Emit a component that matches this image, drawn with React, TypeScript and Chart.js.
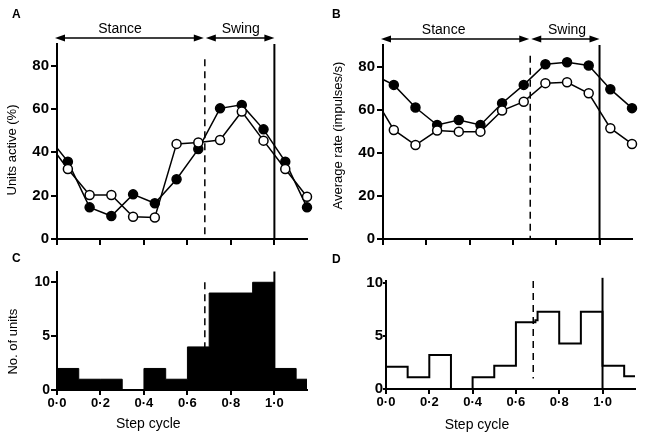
import { useEffect, useRef } from "react";
import { Chart, registerables } from "chart.js";

Chart.register(...registerables);

const FONT = "'Liberation Sans', Arial, sans-serif";

// step-cycle position of each averaged point (centre of a 0.1 bin)
const phase = [0.05, 0.15, 0.25, 0.35, 0.45, 0.55, 0.65, 0.75, 0.85, 0.95, 1.05, 1.15];

// A: units active (%)
const activeFilled = [35.7, 14.6, 10.6, 20.6, 16.5, 27.6, 41.5, 60.3, 61.9, 50.6, 35.7, 14.6];
const activeOpen = [32.3, 20.3, 20.3, 10.3, 9.9, 43.9, 44.5, 45.7, 58.8, 45.4, 32.3, 19.5];
const activeAtZero = [42, 39]; // filled, open

// B: average rate (impulses/s)
const rateFilled = [71.5, 61, 52.9, 55.2, 52.9, 63, 71.5, 81.1, 82, 80.5, 69.5, 60.7];
const rateOpen = [50.6, 43.6, 50.3, 49.8, 49.8, 59.6, 63.7, 72.3, 72.7, 67.6, 51.4, 44.1];
const rateAtZero = [74, 59];

// C and D: histograms (left edge of each bin, last bin ends at binEnd)
const binEnd = 1.15;
const binsC = [0, 0.1, 0.2, 0.3, 0.4, 0.5, 0.6, 0.7, 0.8, 0.9, 1.0, 1.1];
const unitsC = [2, 1, 1, 0, 2, 1, 4, 9, 9, 10, 2, 1];
const binsD = [0, 0.1, 0.2, 0.3, 0.4, 0.5, 0.6, 0.69, 0.7, 0.8, 0.9, 1.0, 1.1];
const unitsD = [2.1, 1.1, 3.2, 0, 1.1, 2.2, 6.3, 6.5, 7.3, 4.3, 7.3, 2.2, 1.2];

const xTicks = [0, 0.2, 0.4, 0.6, 0.8, 1.0];
const yTicksLine = [0, 20, 40, 60, 80];
const yTicksHist = [0, 5, 10];

const swingStart = 0.68;
const cycleEnd = 1.0;

const fmtPhase = (v: number) => v.toFixed(1).replace(".", "·");

type TextItem = {
  text: string;
  x: number;
  y: number;
  size: number;
  bold?: boolean;
  rotate?: boolean;
  xValue?: boolean; // x given on the step-cycle scale
};

type Marks = {
  dashTop: number;
  dashBottom?: number;
  solidTop?: number;
  arrowY?: number;
  texts: TextItem[];
};

const phaseMarks = {
  id: "phaseMarks",
  beforeDatasetsDraw(chart: any, _args: any, opts: Marks) {
    const { ctx, scales } = chart;
    const x = scales.x;
    const y = scales.y;
    ctx.save();
    ctx.strokeStyle = "#000";
    const xe = x.getPixelForValue(cycleEnd);
    ctx.lineWidth = 2;
    ctx.beginPath();
    ctx.moveTo(xe, y.getPixelForValue(opts.solidTop ?? y.max));
    ctx.lineTo(xe, y.getPixelForValue(0));
    ctx.stroke();
    const xs = x.getPixelForValue(swingStart);
    ctx.lineWidth = 1.5;
    ctx.setLineDash([7, 5]);
    ctx.beginPath();
    ctx.moveTo(xs, y.getPixelForValue(opts.dashTop));
    ctx.lineTo(xs, y.getPixelForValue(opts.dashBottom ?? 0));
    ctx.stroke();
    ctx.restore();
  },
  afterDraw(chart: any, _args: any, opts: Marks) {
    const { ctx, scales } = chart;
    const x = scales.x;
    ctx.save();
    ctx.fillStyle = "#000";
    ctx.strokeStyle = "#000";
    if (opts.arrowY !== undefined) {
      const ay = opts.arrowY;
      const arrow = (a: number, b: number) => {
        ctx.lineWidth = 1.5;
        ctx.beginPath();
        ctx.moveTo(a + 4, ay);
        ctx.lineTo(b - 4, ay);
        ctx.stroke();
        ctx.beginPath();
        ctx.moveTo(a, ay);
        ctx.lineTo(a + 10, ay - 3.5);
        ctx.lineTo(a + 10, ay + 3.5);
        ctx.closePath();
        ctx.fill();
        ctx.beginPath();
        ctx.moveTo(b, ay);
        ctx.lineTo(b - 10, ay - 3.5);
        ctx.lineTo(b - 10, ay + 3.5);
        ctx.closePath();
        ctx.fill();
      };
      const p0 = x.getPixelForValue(0);
      const ps = x.getPixelForValue(swingStart);
      const pe = x.getPixelForValue(cycleEnd);
      arrow(p0 - 2, ps - 1);
      arrow(ps + 1, pe);
    }
    for (const t of opts.texts) {
      ctx.font = `${t.bold ? "bold " : ""}${t.size}px ${FONT}`;
      const tx = t.xValue ? x.getPixelForValue(t.x) : t.x;
      if (t.rotate) {
        ctx.save();
        ctx.translate(tx, t.y);
        ctx.rotate(-Math.PI / 2);
        ctx.textAlign = "center";
        ctx.textBaseline = "middle";
        ctx.fillText(t.text, 0, 0);
        ctx.restore();
      } else {
        ctx.textAlign = t.xValue ? "center" : "left";
        ctx.textBaseline = "alphabetic";
        ctx.fillText(t.text, tx, t.y);
      }
    }
    ctx.restore();
  },
};

type AxisOpts = {
  yMax: number;
  yTicks: number[];
  yWidth: number;
  yFont: number;
  yTickLen: number;
  yPad: number;
  xHeight: number;
  xLabels: boolean;
  xTickLen: number;
};

function axes(o: AxisOpts) {
  return {
    x: {
      type: "linear",
      min: 0,
      max: binEnd,
      afterBuildTicks: (s: any) => {
        s.ticks = xTicks.map((v) => ({ value: v }));
      },
      afterFit: (s: any) => {
        s.height = o.xHeight;
      },
      grid: { drawOnChartArea: false, color: "#000", lineWidth: 2, tickLength: o.xTickLen },
      border: { color: "#000", width: 2 },
      ticks: {
        display: o.xLabels,
        color: "#000",
        padding: 1,
        maxRotation: 0,
        font: { family: FONT, size: 13, weight: "bold" },
        callback: (v: number) => fmtPhase(v),
      },
    },
    y: {
      min: 0,
      max: o.yMax,
      afterBuildTicks: (s: any) => {
        s.ticks = o.yTicks.map((v) => ({ value: v }));
      },
      afterFit: (s: any) => {
        s.width = o.yWidth;
      },
      grid: { drawOnChartArea: false, color: "#000", lineWidth: 2, tickLength: o.yTickLen },
      border: { color: "#000", width: 2 },
      ticks: {
        color: "#000",
        padding: o.yPad,
        font: { family: FONT, size: o.yFont, weight: "bold" },
        callback: (v: number) => String(v),
      },
    },
  };
}

function lineSet(values: number[], atZero: number, filled: boolean) {
  return {
    data: [{ x: 0, y: atZero }, ...phase.map((p, i) => ({ x: p, y: values[i] }))],
    borderColor: "#000",
    borderWidth: 1.5,
    pointRadius: (c: any) => (c.dataIndex === 0 ? 0 : 4.5),
    pointBorderWidth: 1.5,
    pointBorderColor: "#000",
    pointBackgroundColor: filled ? "#000" : "#fff",
    backgroundColor: filled ? "#000" : "#fff",
    order: filled ? 1 : 0,
    tension: 0,
    clip: false,
  };
}

function histSet(edges: number[], counts: number[], filled: boolean) {
  const pts = edges.map((e, i) => ({ x: e, y: counts[i] }));
  pts.push({ x: binEnd, y: counts[counts.length - 1] });
  return {
    data: pts,
    stepped: true,
    borderColor: "#000",
    borderWidth: filled ? 1 : 2,
    backgroundColor: "#000",
    fill: filled ? "origin" : false,
    pointRadius: 0,
  };
}

type PanelProps = {
  left: number;
  top: number;
  width: number;
  height: number;
  padding: { left: number; top: number; right: number; bottom: number };
  datasets: any[];
  axis: AxisOpts;
  marks: Marks;
};

function Panel({ left, top, width, height, padding, datasets, axis, marks }: PanelProps) {
  const canvasRef = useRef<HTMLCanvasElement | null>(null);

  useEffect(() => {
    if (!canvasRef.current) return;
    const chart = new Chart(canvasRef.current, {
      type: "line",
      data: { datasets },
      options: {
        responsive: false,
        animation: false,
        layout: { padding },
        scales: axes(axis) as any,
        plugins: {
          legend: { display: false },
          tooltip: { enabled: false },
          phaseMarks: marks,
        } as any,
      },
      plugins: [phaseMarks],
    });
    return () => {
      chart.destroy();
    };
  }, []);

  return (
    <canvas
      ref={canvasRef}
      width={width}
      height={height}
      style={{ position: "absolute", left, top, width, height }}
    />
  );
}

export default function App() {
  return (
    <div style={{ position: "absolute", left: 0, top: 0, width: 645, height: 441, background: "#fff" }}>
      <Panel
        left={0}
        top={0}
        width={322}
        height={250}
        padding={{ left: 3, top: 44, right: 15, bottom: 0 }}
        datasets={[lineSet(activeFilled, activeAtZero[0], true), lineSet(activeOpen, activeAtZero[1], false)]}
        axis={{ yMax: 90, yTicks: yTicksLine, yWidth: 54, yFont: 15, yTickLen: 6, yPad: 2, xHeight: 11, xLabels: false, xTickLen: 6 }}
        marks={{
          dashTop: 83,
          arrowY: 38,
          texts: [
            { text: "A", x: 12, y: 18, size: 12, bold: true },
            { text: "Units active (%)", x: 12.5, y: 150, size: 13, rotate: true },
            { text: "Stance", x: 0.29, y: 33, size: 14, xValue: true },
            { text: "Swing", x: 0.845, y: 33, size: 14, xValue: true },
          ],
        }}
      />
      <Panel
        left={322}
        top={0}
        width={323}
        height={250}
        padding={{ left: 3, top: 45, right: 13, bottom: 0 }}
        datasets={[lineSet(rateFilled, rateAtZero[0], true), lineSet(rateOpen, rateAtZero[1], false)]}
        axis={{ yMax: 90, yTicks: yTicksLine, yWidth: 58, yFont: 15, yTickLen: 6, yPad: 2, xHeight: 11, xLabels: false, xTickLen: 6 }}
        marks={{
          dashTop: 85,
          arrowY: 39,
          texts: [
            { text: "B", x: 10, y: 18, size: 12, bold: true },
            { text: "Average rate (impulses/s)", x: 16, y: 135.5, size: 13, rotate: true },
            { text: "Stance", x: 0.28, y: 33.5, size: 14, xValue: true },
            { text: "Swing", x: 0.85, y: 33.5, size: 14, xValue: true },
          ],
        }}
      />
      <Panel
        left={0}
        top={250}
        width={322}
        height={191}
        padding={{ left: 3, top: 21.5, right: 15, bottom: 0 }}
        datasets={[histSet(binsC, unitsC, true)]}
        axis={{ yMax: 11, yTicks: yTicksHist, yWidth: 54, yFont: 14, yTickLen: 6, yPad: 1, xHeight: 51, xLabels: true, xTickLen: 5 }}
        marks={{
          dashTop: 10,
          texts: [
            { text: "C", x: 12, y: 12, size: 12, bold: true },
            { text: "No. of units", x: 13, y: 91.7, size: 13, rotate: true },
            { text: "Step cycle", x: 0.42, y: 178, size: 14, xValue: true },
          ],
        }}
      />
      <Panel
        left={322}
        top={250}
        width={323}
        height={191}
        padding={{ left: 3, top: 31, right: 10, bottom: 0 }}
        datasets={[histSet(binsD, unitsD, false)]}
        axis={{ yMax: 10.2, yTicks: yTicksHist, yWidth: 61, yFont: 15, yTickLen: 3, yPad: 0, xHeight: 52, xLabels: true, xTickLen: 5 }}
        marks={{
          dashTop: 10.2,
          dashBottom: 1,
          solidTop: 10.5,
          texts: [
            { text: "D", x: 10, y: 13, size: 12, bold: true },
            { text: "Step cycle", x: 0.42, y: 179, size: 14, xValue: true },
          ],
        }}
      />
    </div>
  );
}
